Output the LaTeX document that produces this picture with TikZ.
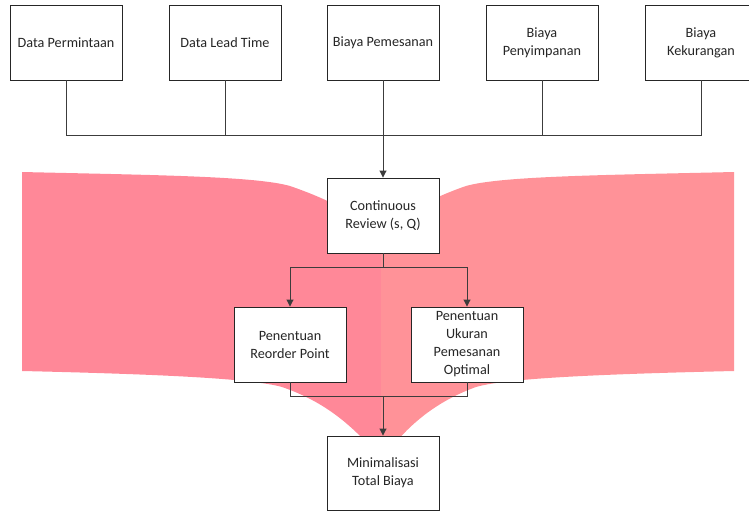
\documentclass[tikz,border=0pt]{standalone}
\usepackage{fontspec}
\setmainfont{Carlito}
\usetikzlibrary{arrows.meta}
\definecolor{pinkL}{RGB}{255,136,152}
\definecolor{pinkR}{RGB}{255,146,152}
\definecolor{linec}{RGB}{60,60,60}
\tikzset{
  box/.style={draw=black!85, line width=0.9pt, fill=white, minimum width=112pt, minimum height=75pt,
    inner sep=2pt, align=center, text=black!85, font=\fontsize{14.2}{18}\selectfont},
  conn/.style={draw=linec, line width=0.9pt},
  arr/.style={conn, -{Triangle[length=7pt,width=7pt]}}
}
\begin{document}
\begin{tikzpicture}[x=1pt,y=-1pt]
\useasboundingbox (0,0) rectangle (749,511);
\clip (0,0) rectangle (749,511);
% pink background shapes
\fill[pinkL] (22,172) .. controls (150,175) and (255,176) .. (290,186)
  .. controls (325,198) and (360,215) .. (381,235) -- (381,442) -- (366,442)
  .. controls (345,420) and (320,400) .. (282,387)
  .. controls (250,378) and (150,374) .. (22,371) -- cycle;
\fill[pinkR] (734,172) .. controls (606,175) and (501,176) .. (466,186)
  .. controls (431,198) and (400,215) .. (381,235) -- (381,442) -- (396,442)
  .. controls (415,420) and (440,400) .. (476,387)
  .. controls (506,378) and (606,374) .. (734,371) -- cycle;
% nodes
\node[box] (b1) at (66,42.5) {Data Permintaan};
\node[box] (b2) at (225,42.5) {Data Lead Time};
\node[box] (b3) at (383,42.5) {Biaya Pemesanan};
\node[box] (b4) at (542,42.5) {Biaya\\Penyimpanan};
\node[box] (b5) at (701,42.5) {Biaya\\Kekurangan};
\node[box] (cr) at (383,215.5) {Continuous\\Review (s, Q)};
\node[box] (pr) at (290,344.5) {Penentuan\\Reorder Point};
\node[box] (po) at (467,344.5) {Penentuan\\Ukuran\\Pemesanan\\Optimal};
\node[box, minimum height=74pt] (mt) at (383,473) {Minimalisasi\\Total Biaya};
% connectors
\coordinate (bus) at (383,135);
\coordinate (split) at (383,267);
\coordinate (join) at (383,396);
\draw[conn] (b1.south) |- (bus);
\draw[conn] (b2.south) |- (bus);
\draw[conn] (b4.south) |- (bus);
\draw[conn] (b5.south) |- (bus);
\draw[arr] (b3.south) -- (cr.north);
\draw[conn] (cr.south) -- (split);
\draw[arr] (split) -| (pr.north);
\draw[arr] (split) -| (po.north);
\draw[conn] (pr.south) |- (join);
\draw[conn] (po.south) |- (join);
\draw[arr] (join) -- (mt.north);
\end{tikzpicture}
\end{document}
